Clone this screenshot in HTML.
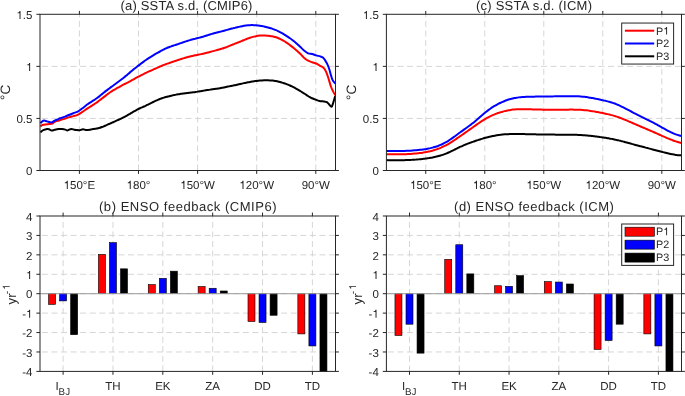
<!DOCTYPE html>
<html><head><meta charset="utf-8"><style>
html,body{margin:0;padding:0;background:#fff;}
svg{display:block;will-change:transform;}
text{font-family:"Liberation Sans", sans-serif;fill:#262626;text-rendering:geometricPrecision;}
.one{fill:#262626;}
.g{stroke:#d6d6d6;stroke-width:1;stroke-dasharray:6 3.57;fill:none;}
.ax{fill:none;stroke:#262626;stroke-width:1;}
.tk{fill:none;stroke:#262626;stroke-width:1;}
</style></head><body>
<svg width="685" height="396" viewBox="0 0 685 396">
<rect width="685" height="396" fill="#fff"/>
<line x1="79.4" y1="170.5" x2="79.4" y2="14.3" class="g"/>
<line x1="138.5" y1="170.5" x2="138.5" y2="14.3" class="g"/>
<line x1="197.6" y1="170.5" x2="197.6" y2="14.3" class="g"/>
<line x1="256.7" y1="170.5" x2="256.7" y2="14.3" class="g"/>
<line x1="315.8" y1="170.5" x2="315.8" y2="14.3" class="g"/>
<line x1="335" y1="118.43" x2="40" y2="118.43" class="g"/>
<line x1="335" y1="66.37" x2="40" y2="66.37" class="g"/>
<path d="M40.3 132.3 C40.8 131.93 42.17 130.67 43.3 130.1 C44.43 129.53 46.08 129.02 47.1 128.9 C48.12 128.78 48.65 129.12 49.4 129.4 C50.15 129.68 50.72 130.53 51.6 130.6 C52.48 130.67 53.55 130.05 54.7 129.8 C55.85 129.55 57.25 129.22 58.5 129.1 C59.75 128.98 61.07 129.02 62.2 129.1 C63.33 129.18 64.42 129.38 65.3 129.6 C66.18 129.82 66.5 130.52 67.5 130.4 C68.5 130.28 70.15 129 71.3 128.9 C72.45 128.8 73.38 129.6 74.4 129.8 C75.42 130 76.55 130.02 77.4 130.1 C78.25 130.18 78.57 130.45 79.5 130.3 C80.43 130.15 81.85 129.23 83 129.2 C84.15 129.17 85.07 130.05 86.4 130.1 C87.73 130.15 90.07 129.63 91 129.5 C91.93 129.37 91.5 129.41 92 129.32 C92.5 129.23 93.33 129.09 94 128.98 C94.67 128.86 95.33 128.76 96 128.64 C96.67 128.52 97.33 128.41 98 128.26 C98.67 128.11 99.33 127.94 100 127.74 C100.67 127.54 101.33 127.31 102 127.06 C102.67 126.81 103.33 126.53 104 126.25 C104.67 125.97 105.33 125.66 106 125.37 C106.67 125.07 107.33 124.76 108 124.46 C108.67 124.16 109.33 123.87 110 123.57 C110.67 123.28 111.33 122.99 112 122.69 C112.67 122.4 113.33 122.1 114 121.8 C114.67 121.5 115.33 121.2 116 120.9 C116.67 120.6 117.33 120.29 118 119.99 C118.67 119.68 119.33 119.38 120 119.07 C120.67 118.76 121.33 118.45 122 118.12 C122.67 117.8 123.33 117.47 124 117.13 C124.67 116.79 125.33 116.44 126 116.07 C126.67 115.71 127.33 115.33 128 114.94 C128.67 114.56 129.33 114.16 130 113.77 C130.67 113.38 131.33 112.98 132 112.58 C132.67 112.19 133.33 111.79 134 111.41 C134.67 111.02 135.33 110.64 136 110.27 C136.67 109.9 137.33 109.54 138 109.21 C138.67 108.87 139.33 108.55 140 108.24 C140.67 107.94 141.33 107.66 142 107.37 C142.67 107.08 143.33 106.8 144 106.5 C144.67 106.2 145.33 105.89 146 105.58 C146.67 105.26 147.33 104.92 148 104.59 C148.67 104.26 149.33 103.92 150 103.59 C150.67 103.25 151.33 102.91 152 102.58 C152.67 102.25 153.33 101.93 154 101.61 C154.67 101.3 155.33 100.99 156 100.69 C156.67 100.39 157.33 100.09 158 99.81 C158.67 99.53 159.33 99.25 160 98.99 C160.67 98.73 161.33 98.47 162 98.24 C162.67 98.02 163.33 97.81 164 97.61 C164.67 97.41 165.33 97.23 166 97.05 C166.67 96.87 167.33 96.7 168 96.53 C168.67 96.36 169.33 96.19 170 96.03 C170.67 95.86 171.33 95.69 172 95.53 C172.67 95.37 173.33 95.2 174 95.05 C174.67 94.91 175.33 94.77 176 94.64 C176.67 94.51 177.33 94.4 178 94.29 C178.67 94.18 179.33 94.08 180 93.99 C180.67 93.89 181.33 93.8 182 93.7 C182.67 93.61 183.33 93.53 184 93.44 C184.67 93.35 185.33 93.27 186 93.19 C186.67 93.1 187.33 93.02 188 92.94 C188.67 92.86 189.33 92.78 190 92.69 C190.67 92.61 191.33 92.52 192 92.44 C192.67 92.35 193.33 92.26 194 92.17 C194.67 92.08 195.33 91.98 196 91.88 C196.67 91.79 197.33 91.69 198 91.59 C198.67 91.49 199.33 91.39 200 91.28 C200.67 91.18 201.33 91.07 202 90.96 C202.67 90.85 203.33 90.74 204 90.62 C204.67 90.51 205.33 90.39 206 90.27 C206.67 90.16 207.33 90.04 208 89.93 C208.67 89.82 209.33 89.72 210 89.63 C210.67 89.53 211.33 89.45 212 89.36 C212.67 89.27 213.33 89.19 214 89.1 C214.67 89.01 215.33 88.93 216 88.83 C216.67 88.73 217.33 88.63 218 88.52 C218.67 88.41 219.33 88.29 220 88.17 C220.67 88.06 221.33 87.94 222 87.81 C222.67 87.69 223.33 87.56 224 87.43 C224.67 87.29 225.33 87.15 226 87.01 C226.67 86.87 227.33 86.72 228 86.58 C228.67 86.44 229.33 86.29 230 86.15 C230.67 86.01 231.33 85.87 232 85.74 C232.67 85.6 233.33 85.48 234 85.35 C234.67 85.21 235.33 85.09 236 84.95 C236.67 84.82 237.33 84.69 238 84.54 C238.67 84.4 239.33 84.25 240 84.09 C240.67 83.94 241.33 83.77 242 83.61 C242.67 83.45 243.33 83.29 244 83.13 C244.67 82.98 245.33 82.83 246 82.69 C246.67 82.55 247.33 82.42 248 82.3 C248.67 82.17 249.33 82.05 250 81.94 C250.67 81.82 251.33 81.71 252 81.6 C252.67 81.49 253.33 81.39 254 81.3 C254.67 81.2 255.33 81.12 256 81.03 C256.67 80.95 257.33 80.87 258 80.79 C258.67 80.72 259.33 80.65 260 80.59 C260.67 80.53 261.33 80.49 262 80.45 C262.67 80.41 263.33 80.38 264 80.35 C264.67 80.33 265.33 80.3 266 80.3 C266.67 80.29 267.33 80.29 268 80.31 C268.67 80.33 269.33 80.37 270 80.41 C270.67 80.46 271.33 80.51 272 80.57 C272.67 80.64 273.33 80.7 274 80.79 C274.67 80.88 275.33 80.98 276 81.1 C276.67 81.23 277.33 81.37 278 81.52 C278.67 81.67 279.33 81.84 280 82.02 C280.67 82.19 281.33 82.39 282 82.59 C282.67 82.79 283.33 83 284 83.22 C284.67 83.44 285.33 83.67 286 83.91 C286.67 84.16 287.33 84.41 288 84.68 C288.67 84.95 289.33 85.22 290 85.52 C290.67 85.81 291.33 86.12 292 86.45 C292.67 86.77 293.33 87.11 294 87.46 C294.67 87.8 295.33 88.16 296 88.53 C296.67 88.89 297.33 89.27 298 89.66 C298.67 90.04 299.33 90.44 300 90.84 C300.67 91.25 301.33 91.67 302 92.09 C302.67 92.52 303.33 92.96 304 93.4 C304.67 93.84 305.33 94.28 306 94.71 C306.67 95.15 307.33 95.59 308 96 C308.67 96.42 309.33 96.82 310 97.2 C310.67 97.57 311.17 97.86 312 98.23 C312.83 98.6 313.75 98.92 315 99.4 C316.25 99.88 317.98 100.77 319.5 101.1 C321.02 101.43 322.87 101.22 324.1 101.4 C325.33 101.58 326.05 101.68 326.9 102.2 C327.75 102.72 328.43 103.73 329.2 104.5 C329.97 105.27 330.83 107.08 331.5 106.8 C332.17 106.52 332.58 104.6 333.2 102.8 C333.82 101 334.87 97.13 335.2 96" fill="none" stroke="#000000" stroke-width="2.0" stroke-linejoin="round" stroke-linecap="butt"/>
<path d="M40.3 126.4 C40.67 126.17 41.62 125.33 42.5 125 C43.38 124.67 44.45 124.55 45.6 124.4 C46.75 124.25 48.27 124.25 49.4 124.1 C50.53 123.95 51.4 123.93 52.4 123.5 C53.4 123.07 54.27 122 55.4 121.5 C56.53 121 57.7 120.93 59.2 120.5 C60.7 120.07 62.8 119.42 64.4 118.9 C66 118.38 67.32 117.87 68.8 117.4 C70.28 116.93 71.82 116.53 73.3 116.1 C74.78 115.67 76.23 115.47 77.7 114.8 C79.17 114.13 80.63 113.05 82.1 112.1 C83.57 111.15 85.52 109.76 86.5 109.1 C87.48 108.44 87.42 108.49 88 108.12 C88.58 107.74 89.33 107.25 90 106.82 C90.67 106.4 91.33 105.99 92 105.58 C92.67 105.16 93.33 104.76 94 104.34 C94.67 103.91 95.33 103.48 96 103.02 C96.67 102.56 97.33 102.08 98 101.58 C98.67 101.09 99.33 100.57 100 100.06 C100.67 99.54 101.33 99 102 98.47 C102.67 97.94 103.33 97.4 104 96.88 C104.67 96.35 105.33 95.83 106 95.33 C106.67 94.83 107.33 94.34 108 93.87 C108.67 93.4 109.33 92.94 110 92.49 C110.67 92.04 111.33 91.6 112 91.17 C112.67 90.74 113.33 90.33 114 89.93 C114.67 89.53 115.33 89.15 116 88.76 C116.67 88.38 117.33 88 118 87.63 C118.67 87.25 119.33 86.88 120 86.52 C120.67 86.15 121.33 85.79 122 85.43 C122.67 85.07 123.33 84.71 124 84.37 C124.67 84.02 125.33 83.68 126 83.34 C126.67 83.01 127.33 82.68 128 82.35 C128.67 82.01 129.33 81.68 130 81.33 C130.67 80.98 131.33 80.61 132 80.24 C132.67 79.87 133.33 79.49 134 79.12 C134.67 78.74 135.33 78.36 136 77.99 C136.67 77.62 137.33 77.25 138 76.89 C138.67 76.53 139.33 76.17 140 75.81 C140.67 75.46 141.33 75.11 142 74.77 C142.67 74.43 143.33 74.1 144 73.78 C144.67 73.46 145.33 73.15 146 72.84 C146.67 72.53 147.33 72.22 148 71.92 C148.67 71.61 149.33 71.31 150 71 C150.67 70.7 151.33 70.4 152 70.1 C152.67 69.79 153.33 69.49 154 69.19 C154.67 68.89 155.33 68.59 156 68.29 C156.67 68 157.33 67.7 158 67.4 C158.67 67.11 159.33 66.81 160 66.53 C160.67 66.25 161.33 65.97 162 65.7 C162.67 65.44 163.33 65.18 164 64.93 C164.67 64.68 165.33 64.44 166 64.2 C166.67 63.95 167.33 63.72 168 63.48 C168.67 63.24 169.33 63 170 62.77 C170.67 62.53 171.33 62.3 172 62.07 C172.67 61.84 173.33 61.61 174 61.38 C174.67 61.15 175.33 60.92 176 60.69 C176.67 60.47 177.33 60.24 178 60.02 C178.67 59.8 179.33 59.58 180 59.36 C180.67 59.15 181.33 58.94 182 58.74 C182.67 58.53 183.33 58.33 184 58.13 C184.67 57.93 185.33 57.73 186 57.54 C186.67 57.34 187.33 57.15 188 56.96 C188.67 56.78 189.33 56.59 190 56.43 C190.67 56.26 191.33 56.11 192 55.96 C192.67 55.81 193.33 55.68 194 55.54 C194.67 55.41 195.33 55.28 196 55.15 C196.67 55.01 197.33 54.88 198 54.75 C198.67 54.62 199.33 54.49 200 54.36 C200.67 54.22 201.33 54.09 202 53.96 C202.67 53.82 203.33 53.68 204 53.53 C204.67 53.38 205.33 53.22 206 53.05 C206.67 52.88 207.33 52.69 208 52.5 C208.67 52.32 209.33 52.12 210 51.94 C210.67 51.75 211.33 51.57 212 51.39 C212.67 51.21 213.33 51.04 214 50.86 C214.67 50.69 215.33 50.52 216 50.35 C216.67 50.17 217.33 50 218 49.82 C218.67 49.64 219.33 49.46 220 49.26 C220.67 49.06 221.33 48.85 222 48.64 C222.67 48.42 223.33 48.19 224 47.95 C224.67 47.72 225.33 47.47 226 47.22 C226.67 46.98 227.33 46.72 228 46.46 C228.67 46.2 229.33 45.94 230 45.67 C230.67 45.41 231.33 45.14 232 44.88 C232.67 44.61 233.33 44.35 234 44.08 C234.67 43.82 235.33 43.55 236 43.29 C236.67 43.03 237.33 42.76 238 42.5 C238.67 42.23 239.33 41.97 240 41.7 C240.67 41.43 241.33 41.16 242 40.88 C242.67 40.61 243.33 40.33 244 40.05 C244.67 39.78 245.33 39.51 246 39.24 C246.67 38.97 247.33 38.71 248 38.46 C248.67 38.21 249.33 37.96 250 37.74 C250.67 37.52 251.33 37.31 252 37.12 C252.67 36.93 253.33 36.76 254 36.6 C254.67 36.44 255.33 36.29 256 36.16 C256.67 36.03 257.33 35.92 258 35.82 C258.67 35.72 259.33 35.64 260 35.58 C260.67 35.53 261.33 35.5 262 35.48 C262.67 35.47 263.33 35.49 264 35.51 C264.67 35.53 265.33 35.56 266 35.6 C266.67 35.65 267.33 35.69 268 35.76 C268.67 35.82 269.33 35.89 270 35.98 C270.67 36.08 271.33 36.19 272 36.31 C272.67 36.44 273.33 36.58 274 36.74 C274.67 36.9 275.33 37.08 276 37.29 C276.67 37.49 277.33 37.72 278 37.97 C278.67 38.22 279.33 38.49 280 38.81 C280.67 39.12 281.33 39.47 282 39.83 C282.67 40.2 283.33 40.61 284 41.02 C284.67 41.42 285.33 41.85 286 42.29 C286.67 42.73 287.33 43.18 288 43.64 C288.67 44.11 289.33 44.59 290 45.08 C290.67 45.58 291.33 46.1 292 46.63 C292.67 47.16 293.33 47.7 294 48.26 C294.67 48.82 295.33 49.39 296 49.97 C296.67 50.55 297.33 51.15 298 51.75 C298.67 52.35 299.63 53.26 300 53.58 C300.37 53.91 299.53 53.01 300.2 53.7 C300.87 54.39 302.68 56.53 304 57.7 C305.32 58.87 306.75 59.95 308.1 60.7 C309.45 61.45 310.75 61.73 312.1 62.2 C313.45 62.67 314.85 62.9 316.2 63.5 C317.55 64.1 319.03 65.12 320.2 65.8 C321.37 66.48 322.35 66.85 323.2 67.6 C324.05 68.35 324.62 69.1 325.3 70.3 C325.98 71.5 326.72 73.27 327.3 74.8 C327.88 76.33 328.2 77.55 328.8 79.5 C329.4 81.45 330.17 84.48 330.9 86.5 C331.63 88.52 332.47 90.13 333.2 91.6 C333.93 93.07 334.95 94.68 335.3 95.3" fill="none" stroke="#ff0000" stroke-width="2.0" stroke-linejoin="round" stroke-linecap="butt"/>
<path d="M40.3 123.3 C40.55 123.05 41.17 122.25 41.8 121.8 C42.43 121.35 43.22 120.67 44.1 120.6 C44.98 120.53 45.85 121.1 47.1 121.4 C48.35 121.7 50.33 122.53 51.6 122.4 C52.87 122.27 53.68 121.08 54.7 120.6 C55.72 120.12 56.82 119.88 57.7 119.5 C58.58 119.12 58.88 118.73 60 118.3 C61.12 117.87 62.93 117.45 64.4 116.9 C65.87 116.35 67.32 115.62 68.8 115 C70.28 114.38 71.82 113.77 73.3 113.2 C74.78 112.63 76.23 112.38 77.7 111.6 C79.17 110.82 80.63 109.6 82.1 108.5 C83.57 107.4 85.52 105.76 86.5 105 C87.48 104.24 87.42 104.36 88 103.96 C88.58 103.56 89.33 103.04 90 102.6 C90.67 102.16 91.33 101.74 92 101.32 C92.67 100.91 93.33 100.52 94 100.1 C94.67 99.68 95.33 99.25 96 98.79 C96.67 98.33 97.33 97.83 98 97.33 C98.67 96.82 99.33 96.29 100 95.76 C100.67 95.23 101.33 94.68 102 94.14 C102.67 93.6 103.33 93.05 104 92.51 C104.67 91.97 105.33 91.43 106 90.91 C106.67 90.39 107.33 89.88 108 89.38 C108.67 88.88 109.33 88.39 110 87.9 C110.67 87.41 111.33 86.93 112 86.44 C112.67 85.95 113.33 85.46 114 84.98 C114.67 84.49 115.33 84 116 83.52 C116.67 83.03 117.33 82.54 118 82.05 C118.67 81.55 119.33 81.06 120 80.56 C120.67 80.06 121.33 79.56 122 79.05 C122.67 78.54 123.33 78.03 124 77.5 C124.67 76.96 125.33 76.41 126 75.84 C126.67 75.28 127.33 74.69 128 74.11 C128.67 73.53 129.33 72.94 130 72.37 C130.67 71.8 131.33 71.25 132 70.7 C132.67 70.15 133.33 69.61 134 69.07 C134.67 68.53 135.33 67.99 136 67.46 C136.67 66.93 137.33 66.41 138 65.89 C138.67 65.36 139.33 64.84 140 64.33 C140.67 63.82 141.33 63.31 142 62.82 C142.67 62.32 143.33 61.84 144 61.37 C144.67 60.9 145.33 60.44 146 59.99 C146.67 59.53 147.33 59.08 148 58.65 C148.67 58.21 149.33 57.78 150 57.36 C150.67 56.94 151.33 56.53 152 56.12 C152.67 55.71 153.33 55.31 154 54.91 C154.67 54.51 155.33 54.12 156 53.74 C156.67 53.35 157.33 52.98 158 52.61 C158.67 52.23 159.33 51.86 160 51.5 C160.67 51.14 161.33 50.78 162 50.43 C162.67 50.07 163.33 49.73 164 49.39 C164.67 49.05 165.33 48.71 166 48.4 C166.67 48.09 167.33 47.78 168 47.51 C168.67 47.23 169.33 46.99 170 46.75 C170.67 46.51 171.33 46.3 172 46.07 C172.67 45.85 173.33 45.64 174 45.42 C174.67 45.2 175.33 44.98 176 44.76 C176.67 44.54 177.33 44.32 178 44.1 C178.67 43.87 179.33 43.64 180 43.41 C180.67 43.18 181.33 42.95 182 42.71 C182.67 42.48 183.33 42.24 184 42.01 C184.67 41.78 185.33 41.56 186 41.34 C186.67 41.12 187.33 40.91 188 40.7 C188.67 40.5 189.33 40.3 190 40.12 C190.67 39.93 191.33 39.75 192 39.58 C192.67 39.41 193.33 39.25 194 39.08 C194.67 38.92 195.33 38.76 196 38.59 C196.67 38.42 197.33 38.25 198 38.08 C198.67 37.91 199.33 37.73 200 37.55 C200.67 37.36 201.33 37.17 202 36.98 C202.67 36.78 203.33 36.58 204 36.38 C204.67 36.17 205.33 35.96 206 35.75 C206.67 35.54 207.33 35.32 208 35.1 C208.67 34.89 209.33 34.67 210 34.46 C210.67 34.26 211.33 34.06 212 33.86 C212.67 33.67 213.33 33.48 214 33.3 C214.67 33.12 215.33 32.95 216 32.78 C216.67 32.61 217.33 32.46 218 32.29 C218.67 32.12 219.33 31.96 220 31.79 C220.67 31.62 221.33 31.44 222 31.26 C222.67 31.08 223.33 30.89 224 30.71 C224.67 30.53 225.33 30.34 226 30.16 C226.67 29.97 227.33 29.79 228 29.61 C228.67 29.43 229.33 29.25 230 29.08 C230.67 28.91 231.33 28.74 232 28.57 C232.67 28.41 233.33 28.25 234 28.08 C234.67 27.92 235.33 27.76 236 27.59 C236.67 27.42 237.33 27.25 238 27.09 C238.67 26.93 239.33 26.77 240 26.61 C240.67 26.46 241.33 26.31 242 26.18 C242.67 26.04 243.33 25.91 244 25.79 C244.67 25.68 245.33 25.57 246 25.48 C246.67 25.39 247.33 25.32 248 25.26 C248.67 25.2 249.33 25.15 250 25.13 C250.67 25.1 251.33 25.09 252 25.1 C252.67 25.11 253.33 25.13 254 25.16 C254.67 25.2 255.33 25.24 256 25.29 C256.67 25.34 257.33 25.4 258 25.47 C258.67 25.54 259.33 25.62 260 25.71 C260.67 25.8 261.33 25.91 262 26.03 C262.67 26.15 263.33 26.29 264 26.43 C264.67 26.58 265.33 26.74 266 26.91 C266.67 27.07 267.33 27.25 268 27.44 C268.67 27.62 269.33 27.82 270 28.02 C270.67 28.23 271.33 28.44 272 28.66 C272.67 28.89 273.33 29.12 274 29.37 C274.67 29.62 275.33 29.88 276 30.16 C276.67 30.43 277.33 30.73 278 31.04 C278.67 31.35 279.33 31.67 280 32.02 C280.67 32.36 281.33 32.73 282 33.11 C282.67 33.5 283.33 33.9 284 34.31 C284.67 34.71 285.33 35.14 286 35.57 C286.67 36 287.33 36.43 288 36.89 C288.67 37.34 289.33 37.8 290 38.28 C290.67 38.75 291.33 39.25 292 39.76 C292.67 40.27 293.33 40.79 294 41.33 C294.67 41.87 295.33 42.43 296 43.01 C296.67 43.59 297.33 44.19 298 44.8 C298.67 45.4 299.63 46.3 300 46.64 C300.37 46.97 299.53 46.16 300.2 46.8 C300.87 47.44 302.68 49.42 304 50.5 C305.32 51.58 306.75 52.72 308.1 53.3 C309.45 53.88 310.75 53.65 312.1 54 C313.45 54.35 314.85 55 316.2 55.4 C317.55 55.8 319.03 56 320.2 56.4 C321.37 56.8 322.35 57.1 323.2 57.8 C324.05 58.5 324.62 59.55 325.3 60.6 C325.98 61.65 326.63 62.67 327.3 64.1 C327.97 65.53 328.72 67.43 329.3 69.2 C329.88 70.97 330.27 72.92 330.8 74.7 C331.33 76.48 331.75 78.42 332.5 79.9 C333.25 81.38 334.83 82.98 335.3 83.6" fill="none" stroke="#0000ff" stroke-width="2.0" stroke-linejoin="round" stroke-linecap="butt"/>
<rect x="40" y="14.3" width="295.5" height="156.2" class="ax"/>
<path d="M79.4 170.5V173.9M79.4 14.3V10.9M138.5 170.5V173.9M138.5 14.3V10.9M197.6 170.5V173.9M197.6 14.3V10.9M256.7 170.5V173.9M256.7 14.3V10.9M315.8 170.5V173.9M315.8 14.3V10.9M40 170.5H36.4M335.5 170.5H338.9M40 118.43H36.4M335.5 118.43H338.9M40 66.37H36.4M335.5 66.37H338.9M40 14.3H36.4M335.5 14.3H338.9" class="tk"/>
<path d="M359 0L271 0L271-497L101-497L101-562C195-567 255-612 273-703L359-703Z" class="one" transform="translate(63.67,188.9) scale(0.01150)"/>
<text x="70.07" y="188.9" font-size="11.5">50°E</text>
<path d="M359 0L271 0L271-497L101-497L101-562C195-567 255-612 273-703L359-703Z" class="one" transform="translate(126.61,188.9) scale(0.01150)"/>
<text x="133" y="188.9" font-size="11.5">80°</text>
<path d="M359 0L271 0L271-497L101-497L101-562C195-567 255-612 273-703L359-703Z" class="one" transform="translate(180.28,188.9) scale(0.01150)"/>
<text x="186.68" y="188.9" font-size="11.5">50°W</text>
<path d="M359 0L271 0L271-497L101-497L101-562C195-567 255-612 273-703L359-703Z" class="one" transform="translate(239.38,188.9) scale(0.01150)"/>
<text x="245.78" y="188.9" font-size="11.5">20°W</text>
<text x="315.8" y="188.9" font-size="11.5" text-anchor="middle" >90°W</text>
<text x="32.4" y="175.2" font-size="11.5" text-anchor="end" >0</text>
<text x="32.4" y="123.13" font-size="11.5" text-anchor="end" >0.5</text>
<path d="M359 0L271 0L271-497L101-497L101-562C195-567 255-612 273-703L359-703Z" class="one" transform="translate(26,71.07) scale(0.01150)"/>
<path d="M359 0L271 0L271-497L101-497L101-562C195-567 255-612 273-703L359-703Z" class="one" transform="translate(16.41,19) scale(0.01150)"/>
<text x="22.81" y="19" font-size="11.5">.5</text>
<text x="186.45" y="10.2" font-size="13" text-anchor="middle" textLength="131.9" lengthAdjust="spacing">(a) SSTA s.d. (CMIP6)</text>
<text transform="translate(9.8,92.4) rotate(-90)" font-size="13.6" text-anchor="middle">°C</text>
<line x1="425.75" y1="170.5" x2="425.75" y2="14.3" class="g"/>
<line x1="484.77" y1="170.5" x2="484.77" y2="14.3" class="g"/>
<line x1="543.79" y1="170.5" x2="543.79" y2="14.3" class="g"/>
<line x1="602.81" y1="170.5" x2="602.81" y2="14.3" class="g"/>
<line x1="661.83" y1="170.5" x2="661.83" y2="14.3" class="g"/>
<line x1="681" y1="118.43" x2="386.4" y2="118.43" class="g"/>
<line x1="681" y1="66.37" x2="386.4" y2="66.37" class="g"/>
<path d="M386.6 160.11 C386.93 160.12 387.93 160.14 388.6 160.15 C389.27 160.16 389.93 160.17 390.6 160.18 C391.27 160.19 391.93 160.19 392.6 160.2 C393.27 160.2 393.93 160.21 394.6 160.21 C395.27 160.21 395.93 160.21 396.6 160.21 C397.27 160.21 397.93 160.21 398.6 160.2 C399.27 160.2 399.93 160.2 400.6 160.19 C401.27 160.18 401.93 160.17 402.6 160.16 C403.27 160.15 403.93 160.14 404.6 160.13 C405.27 160.11 405.93 160.1 406.6 160.08 C407.27 160.06 407.93 160.03 408.6 160.01 C409.27 159.98 409.93 159.96 410.6 159.93 C411.27 159.89 411.93 159.86 412.6 159.82 C413.27 159.78 413.93 159.74 414.6 159.7 C415.27 159.65 415.93 159.6 416.6 159.55 C417.27 159.49 417.93 159.44 418.6 159.37 C419.27 159.31 419.93 159.25 420.6 159.18 C421.27 159.11 421.93 159.03 422.6 158.95 C423.27 158.87 423.93 158.79 424.6 158.7 C425.27 158.61 425.93 158.52 426.6 158.43 C427.27 158.33 427.93 158.23 428.6 158.12 C429.27 158.02 429.93 157.91 430.6 157.79 C431.27 157.68 431.93 157.56 432.6 157.43 C433.27 157.3 433.93 157.17 434.6 157.03 C435.27 156.89 435.93 156.74 436.6 156.58 C437.27 156.42 437.93 156.26 438.6 156.08 C439.27 155.9 439.93 155.72 440.6 155.52 C441.27 155.32 441.93 155.11 442.6 154.88 C443.27 154.66 443.93 154.42 444.6 154.17 C445.27 153.92 445.93 153.65 446.6 153.37 C447.27 153.09 447.93 152.8 448.6 152.5 C449.27 152.2 449.93 151.89 450.6 151.57 C451.27 151.25 451.93 150.93 452.6 150.6 C453.27 150.28 453.93 149.95 454.6 149.62 C455.27 149.29 455.93 148.95 456.6 148.63 C457.27 148.3 457.93 147.97 458.6 147.65 C459.27 147.33 459.93 147.01 460.6 146.71 C461.27 146.4 461.93 146.1 462.6 145.81 C463.27 145.51 463.93 145.23 464.6 144.95 C465.27 144.67 465.93 144.4 466.6 144.13 C467.27 143.86 467.93 143.6 468.6 143.34 C469.27 143.09 469.93 142.84 470.6 142.59 C471.27 142.35 471.93 142.11 472.6 141.87 C473.27 141.64 473.93 141.4 474.6 141.18 C475.27 140.95 475.93 140.73 476.6 140.51 C477.27 140.29 477.93 140.07 478.6 139.86 C479.27 139.65 479.93 139.44 480.6 139.24 C481.27 139.04 481.93 138.84 482.6 138.65 C483.27 138.45 483.93 138.26 484.6 138.08 C485.27 137.89 485.93 137.71 486.6 137.54 C487.27 137.36 487.93 137.19 488.6 137.02 C489.27 136.86 489.93 136.7 490.6 136.54 C491.27 136.39 491.93 136.24 492.6 136.1 C493.27 135.95 493.93 135.82 494.6 135.69 C495.27 135.56 495.93 135.43 496.6 135.32 C497.27 135.21 497.93 135.1 498.6 135 C499.27 134.9 499.93 134.81 500.6 134.73 C501.27 134.65 501.93 134.58 502.6 134.52 C503.27 134.45 503.93 134.4 504.6 134.35 C505.27 134.3 505.93 134.26 506.6 134.22 C507.27 134.19 507.93 134.16 508.6 134.13 C509.27 134.11 509.93 134.09 510.6 134.07 C511.27 134.05 511.93 134.04 512.6 134.03 C513.27 134.02 513.93 134.02 514.6 134.01 C515.27 134.01 515.93 134.01 516.6 134.01 C517.27 134.01 517.93 134.02 518.6 134.03 C519.27 134.03 519.93 134.04 520.6 134.05 C521.27 134.06 521.93 134.07 522.6 134.08 C523.27 134.1 523.93 134.11 524.6 134.12 C525.27 134.14 525.93 134.15 526.6 134.17 C527.27 134.18 527.93 134.2 528.6 134.22 C529.27 134.23 529.93 134.25 530.6 134.26 C531.27 134.28 531.93 134.29 532.6 134.3 C533.27 134.32 533.93 134.33 534.6 134.35 C535.27 134.36 535.93 134.37 536.6 134.38 C537.27 134.4 537.93 134.41 538.6 134.42 C539.27 134.43 539.93 134.44 540.6 134.45 C541.27 134.46 541.93 134.47 542.6 134.48 C543.27 134.49 543.93 134.5 544.6 134.51 C545.27 134.52 545.93 134.53 546.6 134.54 C547.27 134.54 547.93 134.55 548.6 134.56 C549.27 134.57 549.93 134.57 550.6 134.58 C551.27 134.59 551.93 134.59 552.6 134.6 C553.27 134.6 553.93 134.61 554.6 134.62 C555.27 134.62 555.93 134.63 556.6 134.63 C557.27 134.63 557.93 134.64 558.6 134.64 C559.27 134.65 559.93 134.65 560.6 134.65 C561.27 134.66 561.93 134.66 562.6 134.66 C563.27 134.66 563.93 134.67 564.6 134.67 C565.27 134.67 565.93 134.68 566.6 134.68 C567.27 134.69 567.93 134.69 568.6 134.7 C569.27 134.71 569.93 134.72 570.6 134.73 C571.27 134.74 571.93 134.75 572.6 134.76 C573.27 134.77 573.93 134.79 574.6 134.81 C575.27 134.83 575.93 134.85 576.6 134.87 C577.27 134.89 577.93 134.92 578.6 134.95 C579.27 134.97 579.93 135.01 580.6 135.04 C581.27 135.08 581.93 135.11 582.6 135.16 C583.27 135.2 583.93 135.25 584.6 135.3 C585.27 135.35 585.93 135.4 586.6 135.46 C587.27 135.52 587.93 135.58 588.6 135.65 C589.27 135.71 589.93 135.78 590.6 135.85 C591.27 135.93 591.93 136 592.6 136.08 C593.27 136.16 593.93 136.24 594.6 136.32 C595.27 136.41 595.93 136.49 596.6 136.58 C597.27 136.67 597.93 136.76 598.6 136.85 C599.27 136.94 599.93 137.03 600.6 137.13 C601.27 137.22 601.93 137.31 602.6 137.41 C603.27 137.51 603.93 137.61 604.6 137.71 C605.27 137.81 605.93 137.91 606.6 138.02 C607.27 138.13 607.93 138.24 608.6 138.35 C609.27 138.47 609.93 138.58 610.6 138.71 C611.27 138.83 611.93 138.95 612.6 139.08 C613.27 139.21 613.93 139.35 614.6 139.49 C615.27 139.63 615.93 139.78 616.6 139.93 C617.27 140.08 617.93 140.24 618.6 140.4 C619.27 140.55 619.93 140.72 620.6 140.89 C621.27 141.05 621.93 141.23 622.6 141.4 C623.27 141.57 623.93 141.75 624.6 141.93 C625.27 142.11 625.93 142.29 626.6 142.47 C627.27 142.66 627.93 142.84 628.6 143.02 C629.27 143.21 629.93 143.39 630.6 143.58 C631.27 143.77 631.93 143.95 632.6 144.14 C633.27 144.32 633.93 144.5 634.6 144.69 C635.27 144.87 635.93 145.05 636.6 145.23 C637.27 145.41 637.93 145.59 638.6 145.77 C639.27 145.94 639.93 146.12 640.6 146.3 C641.27 146.47 641.93 146.65 642.6 146.82 C643.27 146.99 643.93 147.17 644.6 147.34 C645.27 147.51 645.93 147.69 646.6 147.86 C647.27 148.03 647.93 148.2 648.6 148.38 C649.27 148.55 649.93 148.72 650.6 148.9 C651.27 149.07 651.93 149.24 652.6 149.42 C653.27 149.59 653.93 149.77 654.6 149.94 C655.27 150.12 655.93 150.29 656.6 150.47 C657.27 150.65 657.93 150.82 658.6 151 C659.27 151.18 659.93 151.35 660.6 151.53 C661.27 151.7 661.93 151.87 662.6 152.04 C663.27 152.21 663.93 152.38 664.6 152.54 C665.27 152.71 665.93 152.87 666.6 153.02 C667.27 153.18 667.93 153.33 668.6 153.48 C669.27 153.62 669.93 153.76 670.6 153.9 C671.27 154.03 671.93 154.16 672.6 154.28 C673.27 154.4 673.93 154.52 674.6 154.63 C675.27 154.73 675.93 154.83 676.6 154.92 C677.27 155.01 677.93 155.09 678.6 155.16 C679.27 155.23 680.12 155.3 680.6 155.34 C681.08 155.38 681.35 155.39 681.5 155.4" fill="none" stroke="#000000" stroke-width="2.0" stroke-linejoin="round" stroke-linecap="butt"/>
<path d="M386.6 154.29 C386.93 154.28 387.93 154.26 388.6 154.26 C389.27 154.25 389.93 154.26 390.6 154.26 C391.27 154.26 391.93 154.27 392.6 154.28 C393.27 154.28 393.93 154.3 394.6 154.3 C395.27 154.31 395.93 154.32 396.6 154.33 C397.27 154.34 397.93 154.34 398.6 154.34 C399.27 154.35 399.93 154.34 400.6 154.34 C401.27 154.33 401.93 154.32 402.6 154.3 C403.27 154.28 403.93 154.26 404.6 154.24 C405.27 154.21 405.93 154.18 406.6 154.15 C407.27 154.11 407.93 154.07 408.6 154.03 C409.27 153.99 409.93 153.95 410.6 153.9 C411.27 153.85 411.93 153.8 412.6 153.74 C413.27 153.69 413.93 153.63 414.6 153.57 C415.27 153.51 415.93 153.45 416.6 153.38 C417.27 153.31 417.93 153.24 418.6 153.17 C419.27 153.09 419.93 153.02 420.6 152.93 C421.27 152.85 421.93 152.76 422.6 152.66 C423.27 152.56 423.93 152.46 424.6 152.35 C425.27 152.24 425.93 152.12 426.6 152 C427.27 151.87 427.93 151.74 428.6 151.59 C429.27 151.45 429.93 151.29 430.6 151.13 C431.27 150.97 431.93 150.79 432.6 150.61 C433.27 150.42 433.93 150.23 434.6 150.02 C435.27 149.81 435.93 149.59 436.6 149.36 C437.27 149.13 437.93 148.89 438.6 148.63 C439.27 148.38 439.93 148.11 440.6 147.83 C441.27 147.55 441.93 147.25 442.6 146.94 C443.27 146.63 443.93 146.31 444.6 145.97 C445.27 145.64 445.93 145.28 446.6 144.92 C447.27 144.55 447.93 144.17 448.6 143.78 C449.27 143.39 449.93 142.99 450.6 142.58 C451.27 142.16 451.93 141.74 452.6 141.31 C453.27 140.88 453.93 140.45 454.6 140 C455.27 139.56 455.93 139.11 456.6 138.66 C457.27 138.21 457.93 137.75 458.6 137.29 C459.27 136.83 459.93 136.36 460.6 135.9 C461.27 135.44 461.93 134.97 462.6 134.51 C463.27 134.04 463.93 133.58 464.6 133.11 C465.27 132.64 465.93 132.18 466.6 131.71 C467.27 131.24 467.93 130.77 468.6 130.3 C469.27 129.83 469.93 129.36 470.6 128.9 C471.27 128.43 471.93 127.96 472.6 127.49 C473.27 127.02 473.93 126.55 474.6 126.08 C475.27 125.61 475.93 125.14 476.6 124.68 C477.27 124.21 477.93 123.75 478.6 123.29 C479.27 122.83 479.93 122.37 480.6 121.93 C481.27 121.48 481.93 121.04 482.6 120.61 C483.27 120.18 483.93 119.76 484.6 119.35 C485.27 118.95 485.93 118.55 486.6 118.17 C487.27 117.79 487.93 117.43 488.6 117.08 C489.27 116.73 489.93 116.4 490.6 116.08 C491.27 115.77 491.93 115.47 492.6 115.18 C493.27 114.89 493.93 114.62 494.6 114.35 C495.27 114.09 495.93 113.84 496.6 113.6 C497.27 113.35 497.93 113.13 498.6 112.9 C499.27 112.68 499.93 112.47 500.6 112.26 C501.27 112.06 501.93 111.86 502.6 111.67 C503.27 111.48 503.93 111.3 504.6 111.13 C505.27 110.96 505.93 110.8 506.6 110.65 C507.27 110.5 507.93 110.36 508.6 110.24 C509.27 110.11 509.93 109.99 510.6 109.89 C511.27 109.78 511.93 109.69 512.6 109.61 C513.27 109.53 513.93 109.46 514.6 109.4 C515.27 109.34 515.93 109.3 516.6 109.26 C517.27 109.22 517.93 109.2 518.6 109.17 C519.27 109.15 519.93 109.14 520.6 109.13 C521.27 109.13 521.93 109.13 522.6 109.13 C523.27 109.14 523.93 109.15 524.6 109.16 C525.27 109.17 525.93 109.19 526.6 109.21 C527.27 109.23 527.93 109.25 528.6 109.27 C529.27 109.29 529.93 109.31 530.6 109.33 C531.27 109.35 531.93 109.37 532.6 109.39 C533.27 109.41 533.93 109.43 534.6 109.45 C535.27 109.47 535.93 109.49 536.6 109.5 C537.27 109.52 537.93 109.54 538.6 109.55 C539.27 109.57 539.93 109.59 540.6 109.6 C541.27 109.61 541.93 109.63 542.6 109.64 C543.27 109.65 543.93 109.66 544.6 109.68 C545.27 109.69 545.93 109.7 546.6 109.71 C547.27 109.71 547.93 109.72 548.6 109.73 C549.27 109.74 549.93 109.74 550.6 109.75 C551.27 109.75 551.93 109.76 552.6 109.76 C553.27 109.76 553.93 109.76 554.6 109.76 C555.27 109.76 555.93 109.76 556.6 109.76 C557.27 109.76 557.93 109.76 558.6 109.75 C559.27 109.75 559.93 109.74 560.6 109.73 C561.27 109.73 561.93 109.72 562.6 109.71 C563.27 109.7 563.93 109.69 564.6 109.68 C565.27 109.67 565.93 109.66 566.6 109.65 C567.27 109.65 567.93 109.64 568.6 109.63 C569.27 109.63 569.93 109.62 570.6 109.62 C571.27 109.62 571.93 109.62 572.6 109.62 C573.27 109.63 573.93 109.63 574.6 109.64 C575.27 109.65 575.93 109.67 576.6 109.68 C577.27 109.7 577.93 109.72 578.6 109.75 C579.27 109.78 579.93 109.81 580.6 109.85 C581.27 109.89 581.93 109.93 582.6 109.98 C583.27 110.03 583.93 110.09 584.6 110.15 C585.27 110.22 585.93 110.29 586.6 110.36 C587.27 110.44 587.93 110.53 588.6 110.62 C589.27 110.71 589.93 110.8 590.6 110.9 C591.27 111 591.93 111.11 592.6 111.22 C593.27 111.33 593.93 111.44 594.6 111.56 C595.27 111.67 595.93 111.79 596.6 111.92 C597.27 112.04 597.93 112.16 598.6 112.29 C599.27 112.42 599.93 112.54 600.6 112.67 C601.27 112.8 601.93 112.93 602.6 113.07 C603.27 113.2 603.93 113.33 604.6 113.47 C605.27 113.61 605.93 113.75 606.6 113.9 C607.27 114.05 607.93 114.2 608.6 114.36 C609.27 114.52 609.93 114.68 610.6 114.85 C611.27 115.02 611.93 115.2 612.6 115.39 C613.27 115.57 613.93 115.77 614.6 115.97 C615.27 116.18 615.93 116.39 616.6 116.61 C617.27 116.83 617.93 117.06 618.6 117.3 C619.27 117.54 619.93 117.79 620.6 118.04 C621.27 118.29 621.93 118.55 622.6 118.81 C623.27 119.08 623.93 119.35 624.6 119.62 C625.27 119.9 625.93 120.17 626.6 120.45 C627.27 120.74 627.93 121.02 628.6 121.31 C629.27 121.59 629.93 121.88 630.6 122.17 C631.27 122.46 631.93 122.75 632.6 123.04 C633.27 123.33 633.93 123.62 634.6 123.91 C635.27 124.2 635.93 124.49 636.6 124.78 C637.27 125.06 637.93 125.35 638.6 125.63 C639.27 125.92 639.93 126.2 640.6 126.48 C641.27 126.77 641.93 127.05 642.6 127.33 C643.27 127.61 643.93 127.9 644.6 128.18 C645.27 128.46 645.93 128.75 646.6 129.03 C647.27 129.31 647.93 129.6 648.6 129.88 C649.27 130.17 649.93 130.45 650.6 130.74 C651.27 131.03 651.93 131.32 652.6 131.61 C653.27 131.9 653.93 132.19 654.6 132.49 C655.27 132.78 655.93 133.08 656.6 133.38 C657.27 133.67 657.93 133.97 658.6 134.27 C659.27 134.57 659.93 134.87 660.6 135.17 C661.27 135.47 661.93 135.77 662.6 136.06 C663.27 136.36 663.93 136.65 664.6 136.94 C665.27 137.23 665.93 137.52 666.6 137.8 C667.27 138.09 667.93 138.37 668.6 138.64 C669.27 138.92 669.93 139.19 670.6 139.45 C671.27 139.71 671.93 139.97 672.6 140.22 C673.27 140.47 673.93 140.71 674.6 140.94 C675.27 141.17 675.93 141.4 676.6 141.62 C677.27 141.83 677.93 142.04 678.6 142.23 C679.27 142.43 680.12 142.66 680.6 142.79 C681.08 142.92 681.35 142.98 681.5 143.01" fill="none" stroke="#ff0000" stroke-width="2.0" stroke-linejoin="round" stroke-linecap="butt"/>
<path d="M386.6 151.09 C386.93 151.09 387.93 151.09 388.6 151.09 C389.27 151.09 389.93 151.09 390.6 151.09 C391.27 151.09 391.93 151.1 392.6 151.1 C393.27 151.1 393.93 151.11 394.6 151.11 C395.27 151.11 395.93 151.11 396.6 151.11 C397.27 151.11 397.93 151.11 398.6 151.1 C399.27 151.09 399.93 151.08 400.6 151.07 C401.27 151.06 401.93 151.04 402.6 151.02 C403.27 151 403.93 150.98 404.6 150.95 C405.27 150.93 405.93 150.9 406.6 150.86 C407.27 150.83 407.93 150.79 408.6 150.76 C409.27 150.72 409.93 150.67 410.6 150.63 C411.27 150.59 411.93 150.54 412.6 150.49 C413.27 150.44 413.93 150.39 414.6 150.33 C415.27 150.28 415.93 150.22 416.6 150.16 C417.27 150.1 417.93 150.04 418.6 149.97 C419.27 149.9 419.93 149.83 420.6 149.76 C421.27 149.68 421.93 149.6 422.6 149.51 C423.27 149.43 423.93 149.33 424.6 149.23 C425.27 149.13 425.93 149.03 426.6 148.91 C427.27 148.8 427.93 148.67 428.6 148.54 C429.27 148.41 429.93 148.27 430.6 148.12 C431.27 147.97 431.93 147.81 432.6 147.63 C433.27 147.46 433.93 147.28 434.6 147.08 C435.27 146.89 435.93 146.68 436.6 146.45 C437.27 146.23 437.93 145.99 438.6 145.74 C439.27 145.48 439.93 145.22 440.6 144.93 C441.27 144.64 441.93 144.34 442.6 144.02 C443.27 143.69 443.93 143.35 444.6 142.99 C445.27 142.63 445.93 142.25 446.6 141.85 C447.27 141.45 447.93 141.04 448.6 140.61 C449.27 140.18 449.93 139.73 450.6 139.27 C451.27 138.82 451.93 138.35 452.6 137.88 C453.27 137.4 453.93 136.92 454.6 136.44 C455.27 135.95 455.93 135.46 456.6 134.97 C457.27 134.48 457.93 133.99 458.6 133.5 C459.27 133.01 459.93 132.52 460.6 132.04 C461.27 131.56 461.93 131.08 462.6 130.61 C463.27 130.13 463.93 129.66 464.6 129.18 C465.27 128.71 465.93 128.23 466.6 127.76 C467.27 127.28 467.93 126.8 468.6 126.31 C469.27 125.82 469.93 125.33 470.6 124.83 C471.27 124.32 471.93 123.82 472.6 123.29 C473.27 122.77 473.93 122.24 474.6 121.7 C475.27 121.16 475.93 120.6 476.6 120.03 C477.27 119.47 477.93 118.88 478.6 118.31 C479.27 117.73 479.93 117.14 480.6 116.55 C481.27 115.97 481.93 115.38 482.6 114.81 C483.27 114.23 483.93 113.66 484.6 113.1 C485.27 112.54 485.93 111.98 486.6 111.45 C487.27 110.92 487.93 110.4 488.6 109.91 C489.27 109.41 489.93 108.93 490.6 108.47 C491.27 108.01 491.93 107.57 492.6 107.15 C493.27 106.72 493.93 106.31 494.6 105.92 C495.27 105.53 495.93 105.15 496.6 104.78 C497.27 104.42 497.93 104.07 498.6 103.72 C499.27 103.38 499.93 103.06 500.6 102.74 C501.27 102.42 501.93 102.12 502.6 101.82 C503.27 101.53 503.93 101.25 504.6 100.98 C505.27 100.71 505.93 100.45 506.6 100.21 C507.27 99.97 507.93 99.74 508.6 99.52 C509.27 99.31 509.93 99.11 510.6 98.92 C511.27 98.74 511.93 98.57 512.6 98.41 C513.27 98.26 513.93 98.12 514.6 97.99 C515.27 97.86 515.93 97.75 516.6 97.65 C517.27 97.55 517.93 97.46 518.6 97.38 C519.27 97.3 519.93 97.24 520.6 97.18 C521.27 97.12 521.93 97.07 522.6 97.02 C523.27 96.98 523.93 96.94 524.6 96.91 C525.27 96.87 525.93 96.85 526.6 96.82 C527.27 96.8 527.93 96.78 528.6 96.76 C529.27 96.75 529.93 96.73 530.6 96.72 C531.27 96.7 531.93 96.69 532.6 96.67 C533.27 96.66 533.93 96.65 534.6 96.63 C535.27 96.62 535.93 96.61 536.6 96.6 C537.27 96.59 537.93 96.58 538.6 96.57 C539.27 96.56 539.93 96.55 540.6 96.54 C541.27 96.53 541.93 96.52 542.6 96.51 C543.27 96.51 543.93 96.5 544.6 96.49 C545.27 96.48 545.93 96.47 546.6 96.46 C547.27 96.46 547.93 96.45 548.6 96.44 C549.27 96.43 549.93 96.42 550.6 96.42 C551.27 96.41 551.93 96.4 552.6 96.39 C553.27 96.38 553.93 96.37 554.6 96.36 C555.27 96.36 555.93 96.35 556.6 96.34 C557.27 96.33 557.93 96.32 558.6 96.3 C559.27 96.29 559.93 96.28 560.6 96.27 C561.27 96.26 561.93 96.25 562.6 96.23 C563.27 96.22 563.93 96.21 564.6 96.2 C565.27 96.19 565.93 96.18 566.6 96.17 C567.27 96.16 567.93 96.15 568.6 96.15 C569.27 96.15 569.93 96.14 570.6 96.14 C571.27 96.14 571.93 96.15 572.6 96.16 C573.27 96.16 573.93 96.17 574.6 96.19 C575.27 96.21 575.93 96.23 576.6 96.25 C577.27 96.28 577.93 96.31 578.6 96.34 C579.27 96.38 579.93 96.42 580.6 96.47 C581.27 96.52 581.93 96.57 582.6 96.63 C583.27 96.69 583.93 96.76 584.6 96.84 C585.27 96.92 585.93 97 586.6 97.09 C587.27 97.18 587.93 97.28 588.6 97.39 C589.27 97.49 589.93 97.6 590.6 97.72 C591.27 97.84 591.93 97.96 592.6 98.08 C593.27 98.21 593.93 98.34 594.6 98.47 C595.27 98.61 595.93 98.74 596.6 98.88 C597.27 99.02 597.93 99.16 598.6 99.31 C599.27 99.45 599.93 99.59 600.6 99.74 C601.27 99.88 601.93 100.03 602.6 100.18 C603.27 100.33 603.93 100.48 604.6 100.63 C605.27 100.79 605.93 100.95 606.6 101.12 C607.27 101.29 607.93 101.46 608.6 101.64 C609.27 101.83 609.93 102.01 610.6 102.22 C611.27 102.42 611.93 102.62 612.6 102.85 C613.27 103.07 613.93 103.3 614.6 103.55 C615.27 103.79 615.93 104.05 616.6 104.32 C617.27 104.59 617.93 104.88 618.6 105.17 C619.27 105.47 619.93 105.77 620.6 106.09 C621.27 106.4 621.93 106.72 622.6 107.05 C623.27 107.38 623.93 107.71 624.6 108.05 C625.27 108.39 625.93 108.74 626.6 109.09 C627.27 109.44 627.93 109.79 628.6 110.14 C629.27 110.5 629.93 110.85 630.6 111.21 C631.27 111.56 631.93 111.92 632.6 112.27 C633.27 112.62 633.93 112.97 634.6 113.31 C635.27 113.66 635.93 114 636.6 114.34 C637.27 114.68 637.93 115.01 638.6 115.35 C639.27 115.68 639.93 116.01 640.6 116.34 C641.27 116.67 641.93 116.99 642.6 117.32 C643.27 117.65 643.93 117.97 644.6 118.3 C645.27 118.63 645.93 118.95 646.6 119.28 C647.27 119.61 647.93 119.94 648.6 120.27 C649.27 120.61 649.93 120.94 650.6 121.28 C651.27 121.62 651.93 121.96 652.6 122.31 C653.27 122.66 653.93 123.01 654.6 123.37 C655.27 123.73 655.93 124.09 656.6 124.46 C657.27 124.83 657.93 125.2 658.6 125.58 C659.27 125.95 659.93 126.33 660.6 126.71 C661.27 127.08 661.93 127.46 662.6 127.83 C663.27 128.21 663.93 128.58 664.6 128.94 C665.27 129.31 665.93 129.67 666.6 130.03 C667.27 130.38 667.93 130.73 668.6 131.07 C669.27 131.41 669.93 131.74 670.6 132.06 C671.27 132.38 671.93 132.69 672.6 132.99 C673.27 133.28 673.93 133.57 674.6 133.83 C675.27 134.1 675.93 134.35 676.6 134.58 C677.27 134.82 677.93 135.03 678.6 135.23 C679.27 135.43 680.12 135.64 680.6 135.76 C681.08 135.88 681.35 135.92 681.5 135.95" fill="none" stroke="#0000ff" stroke-width="2.0" stroke-linejoin="round" stroke-linecap="butt"/>
<rect x="386.4" y="14.3" width="295.1" height="156.2" class="ax"/>
<path d="M425.75 170.5V173.9M425.75 14.3V10.9M484.77 170.5V173.9M484.77 14.3V10.9M543.79 170.5V173.9M543.79 14.3V10.9M602.81 170.5V173.9M602.81 14.3V10.9M661.83 170.5V173.9M661.83 14.3V10.9M386.4 170.5H382.8M681.5 170.5H684.9M386.4 118.43H382.8M681.5 118.43H684.9M386.4 66.37H382.8M681.5 66.37H684.9M386.4 14.3H382.8M681.5 14.3H684.9" class="tk"/>
<path d="M359 0L271 0L271-497L101-497L101-562C195-567 255-612 273-703L359-703Z" class="one" transform="translate(410.02,188.9) scale(0.01150)"/>
<text x="416.41" y="188.9" font-size="11.5">50°E</text>
<path d="M359 0L271 0L271-497L101-497L101-562C195-567 255-612 273-703L359-703Z" class="one" transform="translate(472.87,188.9) scale(0.01150)"/>
<text x="479.27" y="188.9" font-size="11.5">80°</text>
<path d="M359 0L271 0L271-497L101-497L101-562C195-567 255-612 273-703L359-703Z" class="one" transform="translate(526.47,188.9) scale(0.01150)"/>
<text x="532.86" y="188.9" font-size="11.5">50°W</text>
<path d="M359 0L271 0L271-497L101-497L101-562C195-567 255-612 273-703L359-703Z" class="one" transform="translate(585.49,188.9) scale(0.01150)"/>
<text x="591.88" y="188.9" font-size="11.5">20°W</text>
<text x="661.83" y="188.9" font-size="11.5" text-anchor="middle" >90°W</text>
<text x="378.8" y="175.2" font-size="11.5" text-anchor="end" >0</text>
<text x="378.8" y="123.13" font-size="11.5" text-anchor="end" >0.5</text>
<path d="M359 0L271 0L271-497L101-497L101-562C195-567 255-612 273-703L359-703Z" class="one" transform="translate(372.4,71.07) scale(0.01150)"/>
<path d="M359 0L271 0L271-497L101-497L101-562C195-567 255-612 273-703L359-703Z" class="one" transform="translate(362.81,19) scale(0.01150)"/>
<text x="369.21" y="19" font-size="11.5">.5</text>
<text x="533.95" y="10.2" font-size="13" text-anchor="middle" textLength="116.1" lengthAdjust="spacing">(c) SSTA s.d. (ICM)</text>
<text transform="translate(356.2,92.4) rotate(-90)" font-size="13.6" text-anchor="middle">°C</text>
<rect x="621.7" y="23.05" width="51.9" height="41" fill="#fff" stroke="#262626" stroke-width="1"/>
<line x1="624.9" y1="30.7" x2="654.2" y2="30.7" stroke="#ff0000" stroke-width="2"/>
<text x="656" y="34.6" font-size="10.8">P</text>
<path d="M359 0L271 0L271-497L101-497L101-562C195-567 255-612 273-703L359-703Z" class="one" transform="translate(663.2,34.6) scale(0.01080)"/>
<line x1="624.9" y1="43.5" x2="654.2" y2="43.5" stroke="#0000ff" stroke-width="2"/>
<text x="656" y="47.4" font-size="10.8" text-anchor="start" >P2</text>
<line x1="624.9" y1="56.3" x2="654.2" y2="56.3" stroke="#000000" stroke-width="2"/>
<text x="656" y="60.2" font-size="10.8" text-anchor="start" >P3</text>
<line x1="63.1" y1="371.4" x2="63.1" y2="216" class="g"/>
<line x1="112.96" y1="371.4" x2="112.96" y2="216" class="g"/>
<line x1="162.82" y1="371.4" x2="162.82" y2="216" class="g"/>
<line x1="212.68" y1="371.4" x2="212.68" y2="216" class="g"/>
<line x1="262.54" y1="371.4" x2="262.54" y2="216" class="g"/>
<line x1="312.4" y1="371.4" x2="312.4" y2="216" class="g"/>
<line x1="335" y1="351.97" x2="40" y2="351.97" class="g"/>
<line x1="335" y1="332.55" x2="40" y2="332.55" class="g"/>
<line x1="335" y1="313.12" x2="40" y2="313.12" class="g"/>
<line x1="335" y1="293.7" x2="40" y2="293.7" class="g"/>
<line x1="335" y1="274.27" x2="40" y2="274.27" class="g"/>
<line x1="335" y1="254.85" x2="40" y2="254.85" class="g"/>
<line x1="335" y1="235.43" x2="40" y2="235.43" class="g"/>
<rect x="48.55" y="293.7" width="7" height="10.68" fill="#ff0000" stroke="#000" stroke-width="0.6"/>
<rect x="59.6" y="293.7" width="7" height="7.19" fill="#0000ff" stroke="#000" stroke-width="0.6"/>
<rect x="70.65" y="293.7" width="7" height="40.99" fill="#000000" stroke="#000" stroke-width="0.6"/>
<rect x="98.41" y="254.46" width="7" height="39.24" fill="#ff0000" stroke="#000" stroke-width="0.6"/>
<rect x="109.46" y="242.61" width="7" height="51.09" fill="#0000ff" stroke="#000" stroke-width="0.6"/>
<rect x="120.51" y="268.84" width="7" height="24.86" fill="#000000" stroke="#000" stroke-width="0.6"/>
<rect x="148.27" y="284.57" width="7" height="9.13" fill="#ff0000" stroke="#000" stroke-width="0.6"/>
<rect x="159.32" y="278.35" width="7" height="15.35" fill="#0000ff" stroke="#000" stroke-width="0.6"/>
<rect x="170.37" y="271.17" width="7" height="22.53" fill="#000000" stroke="#000" stroke-width="0.6"/>
<rect x="198.13" y="286.51" width="7" height="7.19" fill="#ff0000" stroke="#000" stroke-width="0.6"/>
<rect x="209.18" y="288.26" width="7" height="5.44" fill="#0000ff" stroke="#000" stroke-width="0.6"/>
<rect x="220.23" y="290.98" width="7" height="2.72" fill="#000000" stroke="#000" stroke-width="0.6"/>
<rect x="247.99" y="293.7" width="7" height="27.78" fill="#ff0000" stroke="#000" stroke-width="0.6"/>
<rect x="259.04" y="293.7" width="7" height="28.75" fill="#0000ff" stroke="#000" stroke-width="0.6"/>
<rect x="270.09" y="293.7" width="7" height="21.56" fill="#000000" stroke="#000" stroke-width="0.6"/>
<rect x="297.85" y="293.7" width="7" height="40.21" fill="#ff0000" stroke="#000" stroke-width="0.6"/>
<rect x="308.9" y="293.7" width="7" height="52.25" fill="#0000ff" stroke="#000" stroke-width="0.6"/>
<rect x="319.95" y="293.7" width="7" height="77.7" fill="#000000" stroke="#000" stroke-width="0.6"/>
<line x1="40" y1="293.7" x2="335.5" y2="293.7" stroke="#9a9a9a" stroke-width="1"/>
<rect x="40" y="216" width="295.5" height="155.4" class="ax"/>
<path d="M63.1 371.4V374.8M63.1 216V212.6M112.96 371.4V374.8M112.96 216V212.6M162.82 371.4V374.8M162.82 216V212.6M212.68 371.4V374.8M212.68 216V212.6M262.54 371.4V374.8M262.54 216V212.6M312.4 371.4V374.8M312.4 216V212.6M40 371.4H36.4M335.5 371.4H338.9M40 351.97H36.4M335.5 351.97H338.9M40 332.55H36.4M335.5 332.55H338.9M40 313.12H36.4M335.5 313.12H338.9M40 293.7H36.4M335.5 293.7H338.9M40 274.27H36.4M335.5 274.27H338.9M40 254.85H36.4M335.5 254.85H338.9M40 235.43H36.4M335.5 235.43H338.9M40 216H36.4M335.5 216H338.9" class="tk"/>
<text x="55.6" y="389.7" font-size="11.5">I<tspan font-size="9.8" dy="4.8" dx="-0.2">BJ</tspan></text>
<text x="112.96" y="389.7" font-size="11.5" text-anchor="middle" >TH</text>
<text x="162.82" y="389.7" font-size="11.5" text-anchor="middle" >EK</text>
<text x="212.68" y="389.7" font-size="11.5" text-anchor="middle" >ZA</text>
<text x="262.54" y="389.7" font-size="11.5" text-anchor="middle" >DD</text>
<text x="312.4" y="389.7" font-size="11.5" text-anchor="middle" >TD</text>
<text x="32.4" y="376.1" font-size="11.5" text-anchor="end" >-4</text>
<text x="32.4" y="356.67" font-size="11.5" text-anchor="end" >-3</text>
<text x="32.4" y="337.25" font-size="11.5" text-anchor="end" >-2</text>
<text x="22.17" y="317.82" font-size="11.5">-</text>
<path d="M359 0L271 0L271-497L101-497L101-562C195-567 255-612 273-703L359-703Z" class="one" transform="translate(26,317.82) scale(0.01150)"/>
<text x="32.4" y="298.4" font-size="11.5" text-anchor="end" >0</text>
<path d="M359 0L271 0L271-497L101-497L101-562C195-567 255-612 273-703L359-703Z" class="one" transform="translate(26,278.97) scale(0.01150)"/>
<text x="32.4" y="259.55" font-size="11.5" text-anchor="end" >2</text>
<text x="32.4" y="240.12" font-size="11.5" text-anchor="end" >3</text>
<text x="32.4" y="220.7" font-size="11.5" text-anchor="end" >4</text>
<text x="187.75" y="210.5" font-size="13" text-anchor="middle" textLength="177.5" lengthAdjust="spacing">(b) ENSO feedback (CMIP6)</text>
<g transform="translate(16,295.5) rotate(-90)">
<text x="-8.94" y="0" font-size="13.2">yr</text>
<text x="1.35" y="-6.3" font-size="10">-</text>
<path d="M359 0L271 0L271-497L101-497L101-562C195-567 255-612 273-703L359-703Z" class="one" transform="translate(5.78,-6.3) scale(0.01)"/>
</g>
<line x1="409.5" y1="371.4" x2="409.5" y2="216" class="g"/>
<line x1="459.28" y1="371.4" x2="459.28" y2="216" class="g"/>
<line x1="509.06" y1="371.4" x2="509.06" y2="216" class="g"/>
<line x1="558.84" y1="371.4" x2="558.84" y2="216" class="g"/>
<line x1="608.62" y1="371.4" x2="608.62" y2="216" class="g"/>
<line x1="658.4" y1="371.4" x2="658.4" y2="216" class="g"/>
<line x1="681" y1="351.97" x2="386.4" y2="351.97" class="g"/>
<line x1="681" y1="332.55" x2="386.4" y2="332.55" class="g"/>
<line x1="681" y1="313.12" x2="386.4" y2="313.12" class="g"/>
<line x1="681" y1="293.7" x2="386.4" y2="293.7" class="g"/>
<line x1="681" y1="274.27" x2="386.4" y2="274.27" class="g"/>
<line x1="681" y1="254.85" x2="386.4" y2="254.85" class="g"/>
<line x1="681" y1="235.43" x2="386.4" y2="235.43" class="g"/>
<rect x="394.95" y="293.7" width="7" height="41.76" fill="#ff0000" stroke="#000" stroke-width="0.6"/>
<rect x="406" y="293.7" width="7" height="30.5" fill="#0000ff" stroke="#000" stroke-width="0.6"/>
<rect x="417.05" y="293.7" width="7" height="59.44" fill="#000000" stroke="#000" stroke-width="0.6"/>
<rect x="444.73" y="259.32" width="7" height="34.38" fill="#ff0000" stroke="#000" stroke-width="0.6"/>
<rect x="455.78" y="244.75" width="7" height="48.95" fill="#0000ff" stroke="#000" stroke-width="0.6"/>
<rect x="466.83" y="273.89" width="7" height="19.81" fill="#000000" stroke="#000" stroke-width="0.6"/>
<rect x="494.51" y="285.74" width="7" height="7.96" fill="#ff0000" stroke="#000" stroke-width="0.6"/>
<rect x="505.56" y="286.32" width="7" height="7.38" fill="#0000ff" stroke="#000" stroke-width="0.6"/>
<rect x="516.61" y="275.63" width="7" height="18.07" fill="#000000" stroke="#000" stroke-width="0.6"/>
<rect x="544.29" y="281.66" width="7" height="12.04" fill="#ff0000" stroke="#000" stroke-width="0.6"/>
<rect x="555.34" y="282.05" width="7" height="11.65" fill="#0000ff" stroke="#000" stroke-width="0.6"/>
<rect x="566.39" y="283.99" width="7" height="9.71" fill="#000000" stroke="#000" stroke-width="0.6"/>
<rect x="594.07" y="293.7" width="7" height="55.75" fill="#ff0000" stroke="#000" stroke-width="0.6"/>
<rect x="605.12" y="293.7" width="7" height="46.81" fill="#0000ff" stroke="#000" stroke-width="0.6"/>
<rect x="616.17" y="293.7" width="7" height="30.5" fill="#000000" stroke="#000" stroke-width="0.6"/>
<rect x="643.85" y="293.7" width="7" height="40.21" fill="#ff0000" stroke="#000" stroke-width="0.6"/>
<rect x="654.9" y="293.7" width="7" height="52.25" fill="#0000ff" stroke="#000" stroke-width="0.6"/>
<rect x="665.95" y="293.7" width="7" height="77.7" fill="#000000" stroke="#000" stroke-width="0.6"/>
<line x1="386.4" y1="293.7" x2="681.5" y2="293.7" stroke="#9a9a9a" stroke-width="1"/>
<rect x="386.4" y="216" width="295.1" height="155.4" class="ax"/>
<path d="M409.5 371.4V374.8M409.5 216V212.6M459.28 371.4V374.8M459.28 216V212.6M509.06 371.4V374.8M509.06 216V212.6M558.84 371.4V374.8M558.84 216V212.6M608.62 371.4V374.8M608.62 216V212.6M658.4 371.4V374.8M658.4 216V212.6M386.4 371.4H382.8M681.5 371.4H684.9M386.4 351.97H382.8M681.5 351.97H684.9M386.4 332.55H382.8M681.5 332.55H684.9M386.4 313.12H382.8M681.5 313.12H684.9M386.4 293.7H382.8M681.5 293.7H684.9M386.4 274.27H382.8M681.5 274.27H684.9M386.4 254.85H382.8M681.5 254.85H684.9M386.4 235.43H382.8M681.5 235.43H684.9M386.4 216H382.8M681.5 216H684.9" class="tk"/>
<text x="402" y="389.7" font-size="11.5">I<tspan font-size="9.8" dy="4.8" dx="-0.2">BJ</tspan></text>
<text x="459.28" y="389.7" font-size="11.5" text-anchor="middle" >TH</text>
<text x="509.06" y="389.7" font-size="11.5" text-anchor="middle" >EK</text>
<text x="558.84" y="389.7" font-size="11.5" text-anchor="middle" >ZA</text>
<text x="608.62" y="389.7" font-size="11.5" text-anchor="middle" >DD</text>
<text x="658.4" y="389.7" font-size="11.5" text-anchor="middle" >TD</text>
<text x="378.8" y="376.1" font-size="11.5" text-anchor="end" >-4</text>
<text x="378.8" y="356.67" font-size="11.5" text-anchor="end" >-3</text>
<text x="378.8" y="337.25" font-size="11.5" text-anchor="end" >-2</text>
<text x="368.57" y="317.82" font-size="11.5">-</text>
<path d="M359 0L271 0L271-497L101-497L101-562C195-567 255-612 273-703L359-703Z" class="one" transform="translate(372.4,317.82) scale(0.01150)"/>
<text x="378.8" y="298.4" font-size="11.5" text-anchor="end" >0</text>
<path d="M359 0L271 0L271-497L101-497L101-562C195-567 255-612 273-703L359-703Z" class="one" transform="translate(372.4,278.97) scale(0.01150)"/>
<text x="378.8" y="259.55" font-size="11.5" text-anchor="end" >2</text>
<text x="378.8" y="240.12" font-size="11.5" text-anchor="end" >3</text>
<text x="378.8" y="220.7" font-size="11.5" text-anchor="end" >4</text>
<text x="533.95" y="210.5" font-size="13" text-anchor="middle" textLength="159.8" lengthAdjust="spacing">(d) ENSO feedback (ICM)</text>
<g transform="translate(362.4,295.5) rotate(-90)">
<text x="-8.94" y="0" font-size="13.2">yr</text>
<text x="1.35" y="-6.3" font-size="10">-</text>
<path d="M359 0L271 0L271-497L101-497L101-562C195-567 255-612 273-703L359-703Z" class="one" transform="translate(5.78,-6.3) scale(0.01)"/>
</g>
<rect x="621.7" y="224" width="51.9" height="41.4" fill="#fff" stroke="#262626" stroke-width="1"/>
<rect x="625" y="227.2" width="29.4" height="9" fill="#ff0000" stroke="#000" stroke-width="0.6"/>
<text x="656" y="235.2" font-size="10.8">P</text>
<path d="M359 0L271 0L271-497L101-497L101-562C195-567 255-612 273-703L359-703Z" class="one" transform="translate(663.2,235.2) scale(0.01080)"/>
<rect x="625" y="240.15" width="29.4" height="9" fill="#0000ff" stroke="#000" stroke-width="0.6"/>
<text x="656" y="248.15" font-size="10.8" text-anchor="start" >P2</text>
<rect x="625" y="253.1" width="29.4" height="9" fill="#000000" stroke="#000" stroke-width="0.6"/>
<text x="656" y="261.1" font-size="10.8" text-anchor="start" >P3</text>
</svg>
</body></html>
